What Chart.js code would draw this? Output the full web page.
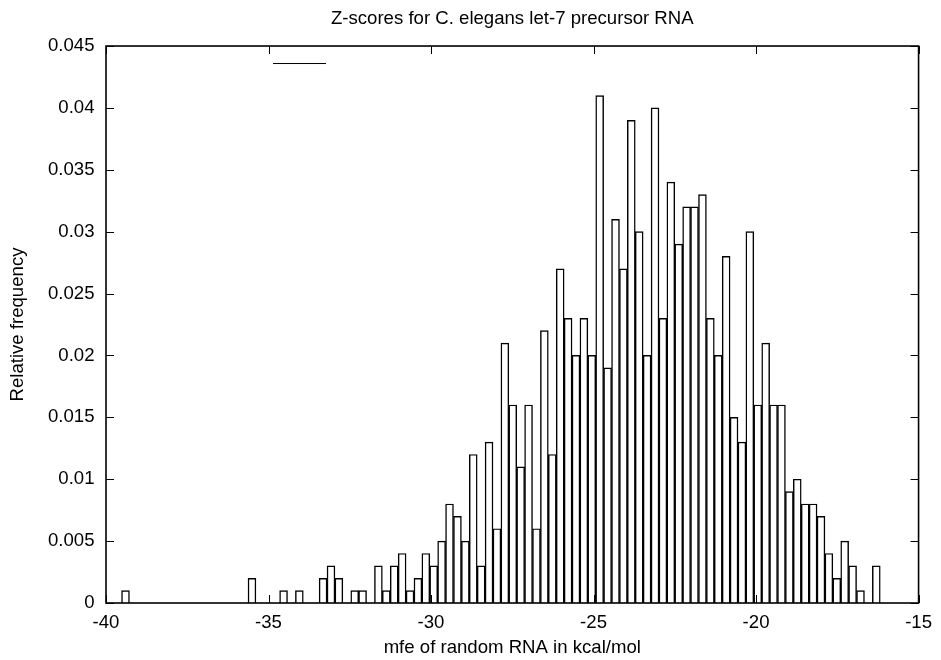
<!DOCTYPE html>
<html>
<head>
<meta charset="utf-8">
<script src="https://cdn.jsdelivr.net/npm/chart.js@4/dist/chart.umd.min.js"></script>
<style>
html,body{margin:0;padding:0;background:#fff;}
#wrap{width:941px;height:660px;}
</style>
</head>
<body>
<div id="wrap"><canvas id="c" width="941" height="660"></canvas></div>
<script>
const chartTitle = "Z-scores for C. elegans let-7 precursor RNA";
const xAxisTitle = "mfe of random RNA in kcal/mol";
const yAxisTitle = "Relative frequency";

// bin centres (kcal/mol)
const binCenters = [
  -39.400, -39.157, -38.914, -38.671, -38.427, -38.184, -37.941, -37.698, -37.455, -37.212,
  -36.968, -36.725, -36.482, -36.239, -35.996, -35.753, -35.509, -35.266, -35.023, -34.780,
  -34.537, -34.294, -34.051, -33.807, -33.564, -33.321, -33.078, -32.835, -32.592, -32.348,
  -32.105, -31.862, -31.619, -31.376, -31.133, -30.889, -30.646, -30.403, -30.160, -29.917,
  -29.674, -29.431, -29.187, -28.944, -28.701, -28.458, -28.215, -27.972, -27.728, -27.485,
  -27.242, -26.999, -26.756, -26.513, -26.269, -26.026, -25.783, -25.540, -25.297, -25.054,
  -24.811, -24.567, -24.324, -24.081, -23.838, -23.595, -23.352, -23.108, -22.865, -22.622,
  -22.379, -22.136, -21.893, -21.649, -21.406, -21.163, -20.920, -20.677, -20.434, -20.191,
  -19.947, -19.704, -19.461, -19.218, -18.975, -18.732, -18.488, -18.245, -18.002, -17.759,
  -17.516, -17.273, -17.029, -16.786, -16.543, -16.300
];

// relative frequency per bin
const relFreq = [
  0.001, 0, 0, 0, 0, 0, 0, 0, 0, 0,
  0, 0, 0, 0, 0, 0, 0.002, 0, 0, 0,
  0.001, 0, 0.001, 0, 0, 0.002, 0.003, 0.002, 0, 0.001,
  0.001, 0, 0.003, 0.001, 0.003, 0.004, 0.001, 0.002, 0.004, 0.003,
  0.005, 0.008, 0.007, 0.005, 0.012, 0.003, 0.013, 0.006, 0.021, 0.016,
  0.011, 0.016, 0.006, 0.022, 0.012, 0.027, 0.023, 0.020, 0.023, 0.020,
  0.041, 0.019, 0.031, 0.027, 0.039, 0.030, 0.020, 0.040, 0.023, 0.034,
  0.029, 0.032, 0.032, 0.033, 0.023, 0.020, 0.028, 0.015, 0.013, 0.030,
  0.016, 0.021, 0.016, 0.016, 0.009, 0.010, 0.008, 0.008, 0.007, 0.004,
  0.002, 0.005, 0.003, 0.001, 0, 0.003
];

const xTickValues = [-40, -35, -30, -25, -20, -15];
const xTickLabels = ["-40", "-35", "-30", "-25", "-20", "-15"];
const yTickValues = [0, 0.005, 0.01, 0.015, 0.02, 0.025, 0.03, 0.035, 0.04, 0.045];
const yTickLabels = ["0", "0.005", "0.01", "0.015", "0.02", "0.025", "0.03", "0.035", "0.04", "0.045"];

const FONT = "'Liberation Sans', Arial, Helvetica, sans-serif";
const FS = 18.6;
Chart.defaults.color = '#000';
Chart.defaults.font.family = FONT;

const frameAndTicks = {
  id: 'frameAndTicks',
  afterDatasetsDraw(chart) {
    const {ctx, chartArea: a, scales} = chart;
    const xs = scales.x, ys = scales.y;
    const len = 8;
    ctx.save();
    ctx.strokeStyle = '#000';
    ctx.lineWidth = 1;
    ctx.beginPath();
    xs.ticks.forEach(t => {
      const px = Math.round(xs.getPixelForValue(t.value)) + 0.5;
      ctx.moveTo(px, a.bottom); ctx.lineTo(px, a.bottom - len);
      ctx.moveTo(px, a.top); ctx.lineTo(px, a.top + len);
    });
    ys.ticks.forEach(t => {
      const py = Math.round(ys.getPixelForValue(t.value)) + 0.5;
      ctx.moveTo(a.left, py); ctx.lineTo(a.left + len, py);
      ctx.moveTo(a.right, py); ctx.lineTo(a.right - len, py);
    });
    ctx.stroke();
    // key sample (empty-titled key entry)
    ctx.beginPath();
    ctx.moveTo(a.left + 167, a.top + 17.5);
    ctx.lineTo(a.left + 220, a.top + 17.5);
    ctx.stroke();
    ctx.lineWidth = 1.6;
    ctx.strokeRect(a.left, a.top, a.right - a.left, a.bottom - a.top);
    ctx.restore();
  }
};

new Chart(document.getElementById('c'), {
  type: 'bar',
  data: {
    datasets: [{
      label: '',
      data: binCenters.map((c, i) => ({x: c, y: relFreq[i]})),
      backgroundColor: 'rgba(0,0,0,0)',
      borderColor: '#000',
      borderWidth: 0.8,
      borderSkipped: 'start',
      barPercentage: 1,
      categoryPercentage: 1
    }]
  },
  options: {
    responsive: false,
    animation: false,
    devicePixelRatio: 1,
    layout: {padding: {left: 0, right: 16, top: 0, bottom: 0}},
    plugins: {
      legend: {display: false},
      tooltip: {enabled: false},
      title: {
        display: true,
        fullSize: false,
        text: chartTitle,
        color: '#000',
        font: {size: FS, weight: 'normal', family: FONT},
        padding: {top: 7.6, bottom: 16.1}
      }
    },
    scales: {
      x: {
        type: 'linear',
        min: -40, max: -15,
        offset: false,
        grid: {display: false, drawTicks: false},
        border: {display: false},
        afterBuildTicks: s => { s.ticks = xTickValues.map(v => ({value: v})); },
        afterFit: s => { s.height = 57; },
        ticks: {
          padding: 9,
          maxRotation: 0,
          autoSkip: false,
          font: {size: FS, family: FONT},
          callback: (v, i) => xTickLabels[i]
        },
        title: {
          display: true,
          text: xAxisTitle,
          font: {size: FS, family: FONT},
          padding: {top: 0, bottom: 1}
        }
      },
      y: {
        type: 'linear',
        min: 0, max: 0.045,
        grid: {display: false, drawTicks: false},
        border: {display: false},
        afterBuildTicks: s => { s.ticks = yTickValues.map(v => ({value: v})); },
        afterFit: s => { s.width = 106; },
        ticks: {
          padding: 11.5,
          autoSkip: false,
          font: {size: FS, family: FONT},
          callback: (v, i) => yTickLabels[i]
        },
        title: {
          display: true,
          text: yAxisTitle,
          font: {size: FS, family: FONT},
          padding: {top: 7, bottom: 0}
        }
      }
    }
  },
  plugins: [frameAndTicks]
});
</script>
</body>
</html>
